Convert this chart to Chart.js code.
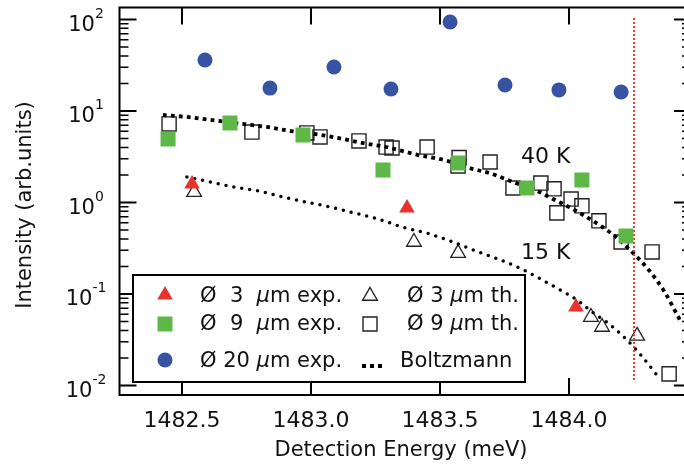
<!DOCTYPE html>
<html>
<head>
<meta charset="utf-8">
<script src="https://cdn.jsdelivr.net/npm/chart.js@4"></script>
<style>
html, body { margin: 0; padding: 0; background: #fff; overflow: hidden; }
canvas { display: block; }
</style>
</head>
<body>
<canvas id="myChart" width="684" height="466"></canvas>
<script>
// Values (energy in meV, intensity in arb. units)
const exp3Energy = [1482.539, 1483.372, 1484.027];
const exp3Int = [1.59, 0.87, 0.072];

const exp9Energy = [1482.446, 1482.686, 1482.969, 1483.279, 1483.570, 1483.837, 1484.050, 1484.221];
const exp9Int = [4.94, 7.39, 5.47, 2.26, 2.70, 1.44, 1.76, 0.43];

const exp20Energy = [1482.589, 1482.841, 1483.089, 1483.310, 1483.539, 1483.752, 1483.961, 1484.202];
const exp20Int = [36.1, 17.8, 30.3, 17.4, 94.0, 19.2, 17.0, 16.1];

const th3Energy = [1482.547, 1483.399, 1483.570, 1484.085, 1484.128, 1484.264];
const th3Int = [1.30, 0.37, 0.28, 0.056, 0.0436, 0.0348];

const th9Energy = [1482.450, 1482.771, 1482.984, 1483.035, 1483.186, 1483.291, 1483.314, 1483.450, 1483.574, 1483.570,
                   1483.694, 1483.783, 1483.891, 1483.942, 1483.953, 1484.008, 1484.050, 1484.116, 1484.202, 1484.322, 1484.388];
const th9Int = [7.21, 5.89, 5.75, 5.20, 4.70, 4.04, 3.94, 4.04, 3.10, 2.51,
                2.77, 1.44, 1.63, 1.41, 0.77, 1.09, 0.92, 0.63, 0.37, 0.288, 0.0134];

// Boltzmann curves
const b40Energy = [1482.426, 1482.519, 1482.643, 1482.736, 1482.829, 1482.922, 1483.012, 1483.105, 1483.198, 1483.291,
                   1483.353, 1483.415, 1483.508, 1483.628, 1483.690, 1483.752, 1483.783, 1483.876, 1483.938, 1484.000,
                   1484.062, 1484.124, 1484.182, 1484.244, 1484.306, 1484.368, 1484.430];
const b40Int = [9.04, 8.6, 7.78, 7.21, 6.69, 6.04, 5.61, 5.07, 4.47, 4.04,
                3.66, 3.30, 2.95, 2.32, 2.10, 1.81, 1.67, 1.34, 1.09, 0.893,
                0.711, 0.553, 0.42, 0.288, 0.1875, 0.108, 0.052];

const b15Energy = [1482.519, 1482.612, 1482.705, 1482.795, 1482.891, 1482.981, 1483.074, 1483.167, 1483.260, 1483.353,
                   1483.446, 1483.539, 1483.628, 1483.725, 1483.818, 1483.876, 1483.965, 1484.031, 1484.089, 1484.151,
                   1484.213, 1484.275, 1484.337];
const b15Int = [1.90, 1.67, 1.47, 1.34, 1.15, 1.01, 0.893, 0.77, 0.66, 0.54,
                0.464, 0.38, 0.303, 0.241, 0.187, 0.153, 0.111, 0.086, 0.0636, 0.0482,
                0.0339, 0.0221, 0.0134];

// red vertical marker
const markEnergy = [1484.252, 1484.252];
const markInt = [104, 0.0109];

const xTickValues = [1482.5, 1483.0, 1483.5, 1484.0];
const xTickLabels = ['1482.5', '1483.0', '1483.5', '1484.0'];
const yTickExponents = [-2, -1, 0, 1, 2];
const xFrameRight = 1484.4729;   // right frame edge, just outside the window

const RED = '#E8322E', GREEN = '#5DB847', BLUE = '#3953A4';
const FONT = '"DejaVu Sans", sans-serif';

function pts(xs, ys) {
    return xs.map((v, i) => ({ x: v, y: ys[i] }));
}

// small helper to draw a marker in the legend
function symbol(ctx, kind, x, y) {
    ctx.save();
    ctx.beginPath();
    if (kind === 'tri' || kind === 'otri') {
        const r = kind === 'tri' ? 9 : 8.5;
        ctx.moveTo(x, y - r);
        ctx.lineTo(x + 0.866 * r, y + r / 2);
        ctx.lineTo(x - 0.866 * r, y + r / 2);
        ctx.closePath();
    } else if (kind === 'sq' || kind === 'osq') {
        const h = kind === 'sq' ? 7.5 : 7;
        ctx.rect(x - h, y - h, 2 * h, 2 * h);
    } else {
        ctx.arc(x, y, 7.5, 0, Math.PI * 2);
    }
    if (kind === 'tri') { ctx.fillStyle = RED; ctx.fill(); }
    else if (kind === 'sq') { ctx.fillStyle = GREEN; ctx.fill(); }
    else if (kind === 'dot') { ctx.fillStyle = BLUE; ctx.fill(); }
    else { ctx.strokeStyle = '#222'; ctx.lineWidth = 1.4; ctx.stroke(); }
    ctx.restore();
}

// draw text pieces, the micro sign in italics
function pieces(ctx, parts, x, y) {
    parts.forEach(p => {
        ctx.font = (p.it ? 'italic ' : '') + '21px ' + FONT;
        ctx.fillText(p.t, x, y);
        x += ctx.measureText(p.t).width;
    });
}

const axesPlugin = {
    id: 'axesPlugin',
    beforeDatasetsDraw(chart) {
        const { ctx, chartArea: a, scales: { x, y } } = chart;
        const right = x.getPixelForValue(xFrameRight);
        ctx.save();
        ctx.strokeStyle = '#000';
        ctx.lineWidth = 2;
        ctx.beginPath();
        ctx.moveTo(right, a.top); ctx.lineTo(a.left, a.top);
        ctx.lineTo(a.left, a.bottom); ctx.lineTo(right, a.bottom);
        ctx.lineTo(right, a.top);
        xTickValues.forEach(v => {
            const px = x.getPixelForValue(v);
            ctx.moveTo(px, a.top); ctx.lineTo(px, a.top + 17);
            ctx.moveTo(px, a.bottom); ctx.lineTo(px, a.bottom - 17);
        });
        yTickExponents.forEach(e => {
            const py = y.getPixelForValue(Math.pow(10, e));
            ctx.moveTo(a.left, py); ctx.lineTo(a.left + 17, py);
            ctx.moveTo(right, py); ctx.lineTo(right - 17, py);
        });
        ctx.stroke();
        ctx.lineWidth = 1.5;
        ctx.beginPath();
        yTickExponents.forEach(e => {
            for (let m = 2; m <= 9; m++) {
                const v = m * Math.pow(10, e);
                if (v > y.max) continue;
                const py = y.getPixelForValue(v);
                ctx.moveTo(a.left, py); ctx.lineTo(a.left + 9, py);
                ctx.moveTo(right, py); ctx.lineTo(right - 9, py);
            }
        });
        ctx.stroke();

        // tick labels
        ctx.fillStyle = '#111';
        ctx.textBaseline = 'alphabetic';
        ctx.font = '22px ' + FONT;
        ctx.textAlign = 'center';
        xTickValues.forEach((v, i) => {
            ctx.fillText(xTickLabels[i], x.getPixelForValue(v), 427);
        });
        ctx.textAlign = 'left';
        yTickExponents.forEach(e => {
            const py = y.getPixelForValue(Math.pow(10, e));
            ctx.font = '21px ' + FONT;
            const w1 = ctx.measureText('10').width;
            ctx.font = '14px ' + FONT;
            const w2 = ctx.measureText(String(e)).width;
            const x0 = 86 - (w1 + w2) / 2;
            ctx.font = '21px ' + FONT;
            ctx.fillText('10', x0, py + 11.5);
            ctx.font = '14px ' + FONT;
            ctx.fillText(String(e), x0 + w1, py - 1.5);
        });

        // axis titles
        ctx.font = '21px ' + FONT;
        ctx.textAlign = 'center';
        ctx.fillText('Detection Energy (meV)', 401, 456);
        ctx.save();
        ctx.translate(30.5, 205);
        ctx.rotate(-Math.PI / 2);
        ctx.fillText('Intensity (arb.units)', 0, 0);
        ctx.restore();
        ctx.restore();
    },
    afterDatasetsDraw(chart) {
        const { ctx } = chart;
        ctx.save();
        ctx.fillStyle = '#111';
        ctx.font = '22px ' + FONT;
        ctx.textAlign = 'left';
        ctx.fillText('40 K', 521, 163);
        ctx.fillText('15 K', 521, 259);

        // legend box
        ctx.fillStyle = '#fff';
        ctx.fillRect(133, 275, 392, 107);
        ctx.strokeStyle = '#000';
        ctx.lineWidth = 2;
        ctx.strokeRect(133, 275, 392, 107);
        symbol(ctx, 'tri', 165, 295);
        symbol(ctx, 'sq', 165, 324);
        symbol(ctx, 'dot', 165, 360);
        symbol(ctx, 'otri', 370, 296);
        symbol(ctx, 'osq', 370, 324);
        ctx.fillStyle = '#000';
        [364, 372, 380].forEach(px => ctx.fillRect(px - 2, 364, 4, 4));
        ctx.fillStyle = '#111';
        pieces(ctx, [{ t: 'Ø  3  ' }, { t: 'μ', it: true }, { t: 'm exp.' }], 200, 302);
        pieces(ctx, [{ t: 'Ø  9  ' }, { t: 'μ', it: true }, { t: 'm exp.' }], 200, 330);
        pieces(ctx, [{ t: 'Ø 20 ' }, { t: 'μ', it: true }, { t: 'm exp.' }], 200, 367);
        pieces(ctx, [{ t: 'Ø 3 ' }, { t: 'μ', it: true }, { t: 'm th.' }], 407, 302);
        pieces(ctx, [{ t: 'Ø 9 ' }, { t: 'μ', it: true }, { t: 'm th.' }], 407, 330);
        pieces(ctx, [{ t: 'Boltzmann' }], 400, 367);
        ctx.restore();
    }
};

const ctx = document.getElementById('myChart').getContext('2d');
const chart = new Chart(ctx, {
    type: 'scatter',
    data: {
        datasets: [
            {
                label: 'Ø 20 μm exp.',
                data: pts(exp20Energy, exp20Int),
                pointStyle: 'circle', pointRadius: 7.5,
                backgroundColor: BLUE, borderWidth: 0,
                order: 0
            },
            {
                label: 'Ø 3 μm exp.',
                data: pts(exp3Energy, exp3Int),
                pointStyle: 'triangle', pointRadius: 9,
                backgroundColor: RED, borderWidth: 0,
                order: 1
            },
            {
                label: 'Ø 9 μm exp.',
                data: pts(exp9Energy, exp9Int),
                pointStyle: 'rect', pointRadius: 10.6,
                backgroundColor: GREEN, borderWidth: 0,
                order: 2
            },
            {
                label: 'marker',
                data: pts(markEnergy, markInt),
                showLine: true, pointRadius: 0,
                borderColor: '#F03A3A', borderWidth: 2,
                borderDash: [2, 2],
                order: 3
            },
            {
                label: 'Boltzmann 40 K',
                data: pts(b40Energy, b40Int),
                showLine: true, pointRadius: 0,
                borderColor: '#000', borderWidth: 3.8,
                borderDash: [3.8, 4.2], borderCapStyle: 'butt',
                cubicInterpolationMode: 'monotone',
                order: 4
            },
            {
                label: 'Boltzmann 15 K',
                data: pts(b15Energy, b15Int),
                showLine: true, pointRadius: 0,
                borderColor: '#000', borderWidth: 3.5,
                borderDash: [0, 8], borderCapStyle: 'round',
                cubicInterpolationMode: 'monotone',
                order: 5
            },
            {
                label: 'Ø 9 μm th.',
                data: pts(th9Energy, th9Int),
                pointStyle: 'rect', pointRadius: 10,
                backgroundColor: 'rgba(0,0,0,0)', borderColor: '#222', borderWidth: 1.4,
                order: 6
            },
            {
                label: 'Ø 3 μm th.',
                data: pts(th3Energy, th3Int),
                pointStyle: 'triangle', pointRadius: 8.5,
                backgroundColor: 'rgba(0,0,0,0)', borderColor: '#222', borderWidth: 1.3,
                order: 7
            }
        ]
    },
    options: {
        responsive: false,
        animation: false,
        devicePixelRatio: 1,
        layout: { autoPadding: false, padding: { left: 119.5, top: 7.5, right: 0, bottom: 71 } },
        plugins: { legend: { display: false }, tooltip: { enabled: false } },
        scales: {
            x: { type: 'linear', display: false, bounds: 'data', min: 1482.2578, max: 1484.4457 },
            y: { type: 'logarithmic', display: false, bounds: 'data', min: 0.007873, max: 135.2 }
        }
    },
    plugins: [axesPlugin]
});
</script>
</body>
</html>
